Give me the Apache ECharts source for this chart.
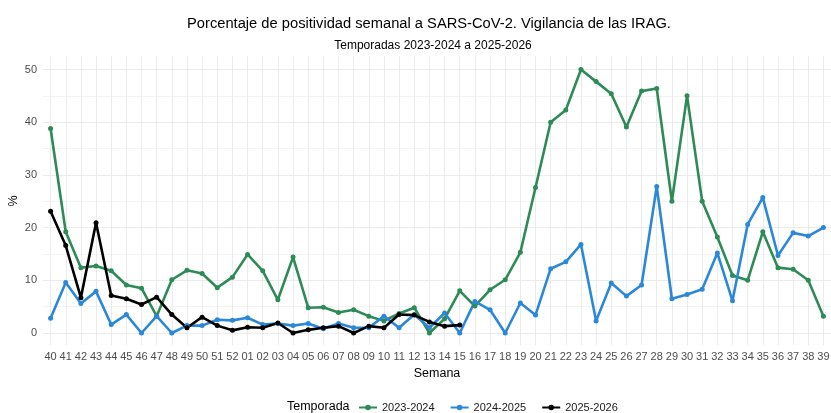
<!DOCTYPE html>
<html><head><meta charset="utf-8">
<script src="https://cdn.jsdelivr.net/npm/echarts@6/dist/echarts.min.js"></script>
<style>html,body{margin:0;padding:0;background:#fff}#c{width:831px;height:413px}</style>
</head><body><div id="c"></div>
<script>
var weeks = ['40','41','42','43','44','45','46','47','48','49','50','51','52','01','02','03','04','05','06','07','08','09','10','11','12','13','14','15','16','17','18','19','20','21','22','23','24','25','26','27','28','29','30','31','32','33','34','35','36','37','38','39'];
var s2324 = [38.8,19.2,12.4,12.7,11.8,9.1,8.5,3.2,10.1,11.9,11.3,8.6,10.6,14.9,11.8,6.3,14.4,4.8,4.9,3.9,4.4,3.2,2.3,3.7,4.8,0,2.7,8.0,5.1,8.2,10.1,15.3,27.6,40,42.3,50,47.7,45.4,39.1,45.9,46.4,25,45,25,18.2,10.9,10,19.2,12.4,12.1,10,3.2];
var s2425 = [2.8,9.6,5.6,7.9,1.6,3.5,0,3.2,0,1.4,1.4,2.5,2.4,2.9,1.6,1.8,1.4,1.8,0.8,1.8,1.0,1.0,3.2,1.0,3.5,1.0,3.8,0,6.0,4.4,0,5.7,3.4,12.2,13.5,16.8,2.3,9.5,7.0,9.1,27.8,6.5,7.3,8.3,15.2,6.1,20.6,25.7,14.7,19,18.4,20];
var s2526 = [23.1,16.6,6.7,20.9,7.1,6.5,5.4,6.8,3.5,1.0,3.0,1.4,0.5,1.1,1.0,1.9,0,0.6,1.0,1.3,0,1.3,1.0,3.5,3.4,2.1,1.3,1.5];
var seasons = ['2023-2024','2024-2025','2025-2026'];
var colors = ['#2e8b57','#2b88d8','#000000'];

var chart = echarts.init(document.getElementById('c'));
var font = 'Liberation Sans, Arial, sans-serif';
function mk(name, data, color){
  return {name:name, type:'line', data:data, symbol:'circle', symbolSize:5, showSymbol:true,
    xAxisIndex:0, yAxisIndex:0,
    lineStyle:{width:2.6,color:color}, itemStyle:{color:color}, z: 3};
}
chart.setOption({
  animation:false,
  textStyle:{fontFamily:font},
  title:[
    {text:'Porcentaje de positividad semanal a SARS-CoV-2. Vigilancia de las IRAG.', left:424, textAlign:'center', top:11,
     textStyle:{fontSize:14.7,fontWeight:'normal',color:'#000',fontFamily:font}},
    {text:'Temporadas 2023-2024 a 2025-2026', left:428, textAlign:'center', top:35,
     textStyle:{fontSize:12,fontWeight:'normal',color:'#000',fontFamily:font}},
    {text:'Temporada', left:282, top:395, textStyle:{fontSize:12.5,fontWeight:'normal',color:'#000',fontFamily:font}}
  ],
  graphic:[{type:'text', x:14, y:201, rotation:Math.PI/2,
    style:{text:'%', fill:'#000', font:'12.5px Liberation Sans, Arial, sans-serif', textAlign:'center', textVerticalAlign:'middle'}}],
  legend:{data:seasons, left:353, top:397, itemWidth:18, itemHeight:7, itemGap:15,
    textStyle:{fontSize:11,color:'#1a1a1a',fontFamily:font}},
  grid:[
    {left:43, right:0, top:69.5, bottom:80, containLabel:false, outerBoundsMode:'none'},
    {left:50.6, right:7.6, top:56, bottom:68, containLabel:false, outerBoundsMode:'none'}
  ],
  xAxis:[
    {type:'category', data:weeks, boundaryGap:true, gridIndex:0,
    name:'Semana', nameLocation:'middle', nameGap:33,
    nameTextStyle:{fontSize:12.5,color:'#000',fontFamily:font},
    axisLine:{show:false}, axisTick:{show:false},
    axisLabel:{fontSize:11,color:'#4d4d4d',interval:0,margin:18,fontFamily:font},
    splitLine:{show:false}},
    {type:'category', data:weeks, boundaryGap:false, gridIndex:1,
    axisLine:{show:false}, axisTick:{show:false}, axisLabel:{show:false},
    splitLine:{show:true, interval:0, lineStyle:{color:'#ebebeb',width:1}}}
  ],
  yAxis:[
    {type:'value', min:0, max:50, interval:10, gridIndex:0,
    axisLine:{show:false}, axisTick:{show:false},
    axisLabel:{fontSize:11,color:'#4d4d4d',margin:6,fontFamily:font},
    splitLine:{show:true,lineStyle:{color:'#ebebeb',width:1}},
    minorTick:{show:false,splitNumber:2},
    minorSplitLine:{show:true,lineStyle:{color:'#f3f3f3',width:1}}},
    {type:'value', min:0, max:1, gridIndex:1, show:false, splitLine:{show:false}}
  ],
  series:[mk(seasons[0],s2324,colors[0]), mk(seasons[1],s2425,colors[1]), mk(seasons[2],s2526,colors[2])]
});
</script></body></html>
